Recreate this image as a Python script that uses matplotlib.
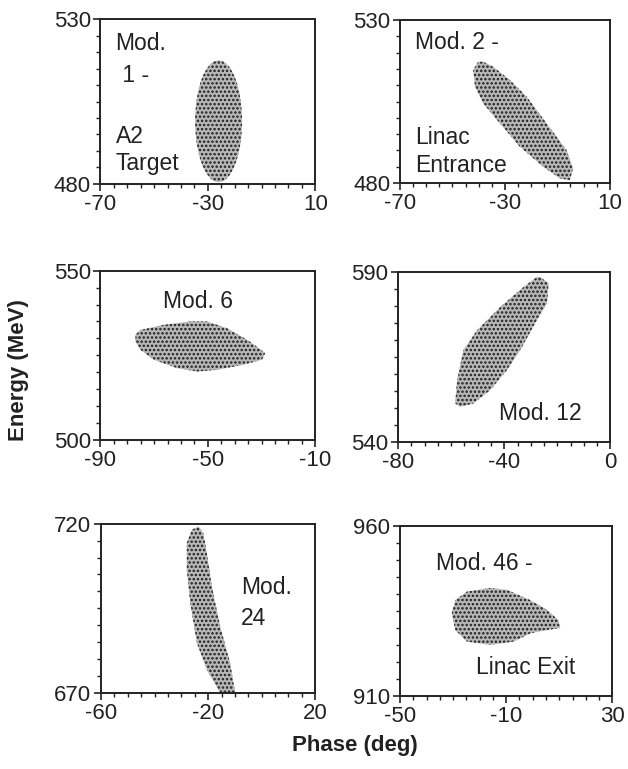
import matplotlib
matplotlib.use("Agg")
import matplotlib.pyplot as plt
from matplotlib.patches import Ellipse, Polygon
from matplotlib.ticker import FixedLocator

plt.rcParams["font.family"] = ["Liberation Sans", "DejaVu Sans"]
plt.rcParams["hatch.linewidth"] = 1.2

# Axis ranges (phase in deg, energy in MeV) for each module snapshot.
X_LIMS = [(-70, 10), (-70, 10), (-90, -10), (-80, 0), (-60, 20), (-50, 30)]
Y_LIMS = [(480, 530), (480, 530), (500, 550), (540, 590), (670, 720), (910, 960)]
X_LABELED = [[-70, -30, 10], [-70, -30, 10], [-90, -50, -10],
             [-80, -40, 0], [-60, -20, 20], [-50, -10, 30]]

# Mod. 1 bunch is an upright ellipse: centre, full width, full height.
MOD1_CENTER = (-26, 499)
MOD1_WIDTH = 17.5
MOD1_HEIGHT = 37

# Outlines of the other bunches (phase, energy).
MOD2_PHASE = [-40.2, -42.1, -41.4, -38.3, -31.9, -24.3, -15.4, -9.0,
              -5.2, -4.0, -6.5, -14.1, -21.7, -28.1, -34.5, -38.3]
MOD2_ENERGY = [517.2, 514.7, 509.5, 504.4, 498.3, 491.1, 485.0, 481.4,
               480.9, 484.5, 490.1, 498.3, 506.5, 511.6, 515.7, 517.2]

MOD6_PHASE = [-77.0, -75.1, -66.4, -56.5, -50.3, -42.9, -35.4, -28.6,
              -29.8, -36.7, -46.6, -54.0, -61.5, -70.2, -75.1, -77.0]
MOD6_ENERGY = [531.1, 532.5, 534.0, 535.0, 535.0, 533.0, 529.6, 525.7,
               523.7, 522.2, 520.7, 520.2, 521.2, 523.7, 526.6, 529.1]

MOD12_PHASE = [-26.4, -23.3, -23.9, -27.7, -34.0, -39.0, -45.3, -51.6,
               -56.6, -58.5, -57.8, -55.4, -50.3, -41.5, -32.7, -27.7]
MOD12_ENERGY = [588.6, 586.7, 580.8, 575.9, 567.1, 561.2, 555.3, 551.4,
                550.4, 551.4, 558.2, 567.1, 572.9, 579.8, 585.7, 588.6]

MOD24_PHASE = [-23.6, -21.8, -20.5, -18.6, -15.5, -11.8, -9.9,
               -15.5, -20.5, -24.2, -26.7, -28.0, -28.0, -26.1]
MOD24_ENERGY = [719.2, 717.2, 711.3, 701.4, 689.6, 678.8, 670.0,
                670.0, 676.8, 684.7, 696.5, 706.4, 714.3, 718.2]

MOD46_PHASE = [-30.5, -29.2, -24.8, -16.0, -9.7, -0.9, 5.4, 9.6,
               10.4, 5.4, -0.9, -7.2, -16.0, -24.8, -29.2]
MOD46_ENERGY = [934.3, 938.2, 940.7, 941.8, 941.2, 938.2, 935.3, 932.4,
                930.0, 929.4, 928.4, 926.0, 925.0, 926.0, 929.4]

OUTLINES = [None, (MOD2_PHASE, MOD2_ENERGY), (MOD6_PHASE, MOD6_ENERGY),
            (MOD12_PHASE, MOD12_ENERGY), (MOD24_PHASE, MOD24_ENERGY),
            (MOD46_PHASE, MOD46_ENERGY)]

# Panel annotations: (text, x, y, ha) in axes fraction.
LABELS = [
    [("Mod.", 0.07, 0.855, "left"), (" 1 -", 0.07, 0.66, "left"),
     ("A2", 0.07, 0.285, "left"), ("Target", 0.07, 0.125, "left")],
    [("Mod. 2 -", 0.07, 0.86, "left"), ("Linac", 0.07, 0.28, "left"),
     ("Entrance", 0.07, 0.105, "left")],
    [("Mod. 6", 0.455, 0.82, "center")],
    [("Mod. 12", 0.67, 0.17, "center")],
    [("Mod.", 0.655, 0.62, "left"), ("24", 0.655, 0.44, "left")],
    [("Mod. 46 -", 0.17, 0.78, "left"), ("Linac Exit", 0.36, 0.165, "left")],
]

# [left, bottom, width, height] in figure fraction
AX_RECTS = [
    [0.160, 0.761, 0.342, 0.214], [0.637, 0.762, 0.334, 0.212],
    [0.160, 0.428, 0.342, 0.220], [0.634, 0.425, 0.338, 0.221],
    [0.161, 0.099, 0.341, 0.220], [0.637, 0.095, 0.338, 0.221],
]

INK = "#222222"
SHAPE_STYLE = dict(facecolor="#b8b8b8", edgecolor="#1e1e1e", hatch="....",
                   linewidth=0)

fig = plt.figure(figsize=(6.28, 7.69), dpi=100)

for i, rect in enumerate(AX_RECTS):
    ax = fig.add_axes(rect)
    x0, x1 = X_LIMS[i]
    y0, y1 = Y_LIMS[i]

    if OUTLINES[i] is None:
        ax.add_patch(Ellipse(MOD1_CENTER, MOD1_WIDTH, MOD1_HEIGHT, **SHAPE_STYLE))
    else:
        px, py = OUTLINES[i]
        ax.add_patch(Polygon(list(zip(px, py)), closed=True, **SHAPE_STYLE))

    ax.set_xlim(x0, x1)
    ax.set_ylim(y0, y1)

    # labels only on a few x ticks and on the y end points
    ax.set_xticks(X_LABELED[i])
    ax.set_xticklabels([str(v) for v in X_LABELED[i]])
    ax.xaxis.set_minor_locator(FixedLocator(
        [v for v in range(x0, x1 + 1, 5) if v not in X_LABELED[i]]))
    ax.set_yticks([y0, y1])
    ax.set_yticklabels([str(y0), str(y1)])
    ax.yaxis.set_minor_locator(FixedLocator(list(range(y0 + 5, y1, 5))))

    ax.tick_params(which="major", direction="out", length=5, width=1.2,
                   labelsize=16, pad=2, color=INK, labelcolor=INK)
    ax.tick_params(which="minor", direction="out", length=3, width=1.0,
                   color=INK)
    for s in ax.spines.values():
        s.set_linewidth(1.4)
        s.set_color(INK)

    for text, tx, ty, ha in LABELS[i]:
        ax.text(tx, ty, text, transform=ax.transAxes, ha=ha, va="center",
                fontsize=16.5, color=INK)

fig.text(0.029, 0.519, "Energy (MeV)", rotation=90, ha="center", va="center",
         fontsize=16, fontweight="bold", color=INK)
fig.text(0.565, 0.031, "Phase (deg)", ha="center", va="center",
         fontsize=16, fontweight="bold", color=INK)

fig.savefig("out.png", dpi=100, facecolor="white")
